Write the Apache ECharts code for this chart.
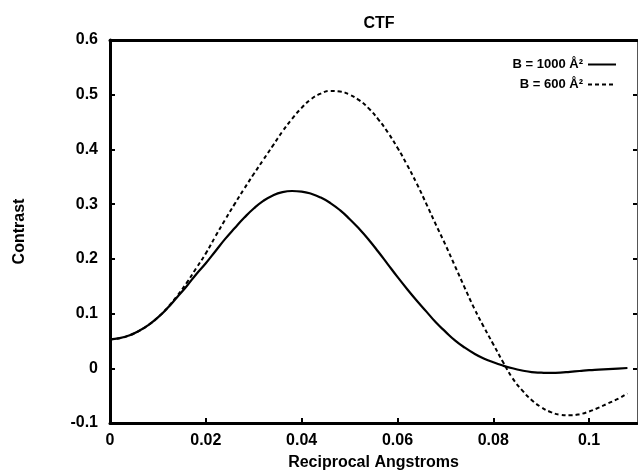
<!DOCTYPE html>
<html>
<head>
<meta charset="utf-8">
<script src="https://cdn.jsdelivr.net/npm/echarts@6/dist/echarts.min.js"></script>
<style>html,body{margin:0;padding:0;background:#fff}#c{width:638px;height:476px}</style>
</head>
<body>
<div id="c"></div>
<script>
var freq = [0,0.002,0.004,0.006,0.008,0.010,0.012,0.014,0.016,0.018,0.020,0.022,0.024,0.026,0.028,0.030,0.032,0.034,0.036,0.038,0.040,0.042,0.044,0.046,0.048,0.050,0.052,0.054,0.056,0.058,0.060,0.062,0.064,0.066,0.068,0.070,0.072,0.074,0.076,0.078,0.080,0.082,0.084,0.086,0.088,0.090,0.092,0.094,0.096,0.098,0.100,0.102,0.104,0.106,0.108];
var b1000 = [0.053,0.055,0.060,0.068,0.079,0.093,0.110,0.130,0.150,0.172,0.192,0.214,0.236,0.256,0.275,0.292,0.306,0.316,0.322,0.324,0.323,0.319,0.312,0.302,0.289,0.273,0.255,0.235,0.213,0.190,0.167,0.145,0.124,0.104,0.084,0.067,0.051,0.038,0.027,0.018,0.011,0.005,0.000,-0.004,-0.007,-0.008,-0.0085,-0.008,-0.0065,-0.005,-0.0035,-0.0025,-0.0015,-0.0005,0.0005];
var b600 = [0.053,0.055,0.060,0.068,0.079,0.093,0.111,0.132,0.156,0.183,0.210,0.241,0.271,0.300,0.328,0.355,0.381,0.407,0.433,0.456,0.476,0.492,0.502,0.507,0.506,0.500,0.490,0.475,0.455,0.431,0.403,0.372,0.338,0.301,0.263,0.226,0.187,0.148,0.110,0.076,0.044,0.012,-0.018,-0.040,-0.058,-0.071,-0.080,-0.085,-0.086,-0.084,-0.079,-0.072,-0.064,-0.056,-0.046];
var seriesNames = ['B = 1000 Å²', 'B = 600 Å²'];
var xTicks = {min: 0, max: 0.11, interval: 0.02};
var yTicks = {min: -0.1, max: 0.6, interval: 0.1};

function pairs(xs, ys){ return xs.map(function(x,i){ return [x, ys[i]]; }); }

var chart = echarts.init(document.getElementById('c'), null, {renderer:'canvas'});
var F = 'Liberation Sans, Arial, sans-serif';
chart.setOption({
  animation: false,
  backgroundColor: '#fff',
  title: {text: 'CTF', left: 374, top: 11, textAlign: 'center',
    textStyle: {fontFamily: F, fontSize: 16, fontWeight: 'bold', color: '#000'}},
  legend: {
    data: seriesNames, orient: 'vertical', right: 16, top: 53, align: 'right',
    itemWidth: 28, itemHeight: 10, itemGap: 7,
    itemStyle: {opacity: 0},
    textStyle: {fontFamily: F, fontSize: 13, fontWeight: 'bold', color: '#000'}
  },
  grid: {left: 110, right: 1, top: 40, bottom: 45, containLabel: false},
  xAxis: [{
    type: 'value', min: xTicks.min, max: xTicks.max, interval: xTicks.interval,
    name: 'Reciprocal Angstroms', nameLocation: 'middle', nameGap: 32,
    nameTextStyle: {fontFamily: F, fontSize: 16, fontWeight: 'bold', color: '#000'},
    axisLine: {show: true, onZero: false, lineStyle: {color: '#000', width: 3}},
    axisTick: {show: true, inside: true, length: 5, lineStyle: {color: '#000', width: 2}},
    axisLabel: {fontFamily: F, fontSize: 16, fontWeight: 'bold', color: '#000', margin: 10,
      showMaxLabel: false,
      formatter: function(v){ return String(+v.toFixed(3)); }},
    splitLine: {show: false}
  }, {
    type: 'value', position: 'top', min: xTicks.min, max: xTicks.max, interval: xTicks.interval,
    axisLine: {show: true, onZero: false, lineStyle: {color: '#000', width: 3}},
    axisTick: {show: false}, axisLabel: {show: false}, splitLine: {show: false}
  }],
  yAxis: [{
    type: 'value', min: yTicks.min, max: yTicks.max, interval: yTicks.interval,
    name: 'Contrast', nameLocation: 'middle', nameGap: 82,
    nameTextStyle: {fontFamily: F, fontSize: 16, fontWeight: 'bold', color: '#000'},
    axisLine: {show: true, onZero: false, lineStyle: {color: '#000', width: 3}},
    axisTick: {show: true, inside: true, length: 5, lineStyle: {color: '#000', width: 2}},
    axisLabel: {fontFamily: F, fontSize: 16, fontWeight: 'bold', color: '#000', margin: 12,
      formatter: function(v){ return String(+v.toFixed(2)); }},
    splitLine: {show: false}
  }, {
    type: 'value', position: 'right', min: yTicks.min, max: yTicks.max, interval: yTicks.interval,
    axisLine: {show: true, onZero: false, lineStyle: {color: '#555', width: 1}},
    axisTick: {show: true, inside: true, length: 4, lineStyle: {color: '#000', width: 2}},
    axisLabel: {show: false}, splitLine: {show: false}
  }],
  series: [{
    name: seriesNames[0], type: 'line', data: pairs(freq, b1000), smooth: true,
    symbol: 'none', lineStyle: {color: '#000', width: 2.2}, itemStyle: {color: '#000'}
  }, {
    name: seriesNames[1], type: 'line', data: pairs(freq, b600), smooth: true,
    symbol: 'none', lineStyle: {color: '#000', width: 2, type: [4, 3]}, itemStyle: {color: '#000'}
  }]
});
</script>
</body>
</html>
